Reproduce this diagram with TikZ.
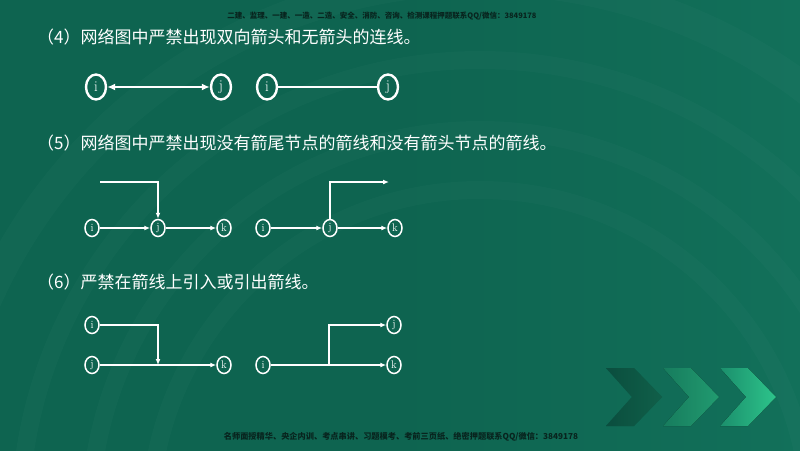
\documentclass[tikz,border=0pt]{standalone}
\usepackage{fontspec}
\newfontfamily\cjk{Noto Sans CJK SC}
\usetikzlibrary{arrows.meta,shapes.geometric}
\definecolor{bgA}{HTML}{0E6450}
\definecolor{bgB}{HTML}{12705A}
\definecolor{wm}{HTML}{08241E}
\definecolor{chA}{HTML}{1B8F6C}
\definecolor{chB}{HTML}{2DC48B}
\tikzset{
  heading/.style={anchor=west,inner sep=0pt,text=white,font=\cjk\fontsize{17}{18}\selectfont},
  wmark/.style={inner sep=0pt,text=wm,font=\cjk\bfseries\fontsize{7.5}{8}\selectfont},
  bignode/.style={ellipse,draw=white,line width=2.4pt,minimum width=20pt,minimum height=25pt,inner sep=0pt,text=white,font=\rmfamily\fontsize{15}{15}\selectfont},
  smallnode/.style={ellipse,draw=white,line width=1.5pt,minimum width=14pt,minimum height=17pt,inner sep=0pt,text=white,font=\rmfamily\fontsize{11}{11}\selectfont},
  bigline/.style={draw=white,line width=2.2pt},
  smallline/.style={draw=white,line width=1.5pt},
  tip/.style={-{Latex[length=6pt,width=5pt]}},
  bigtip/.style={{Latex[length=8pt,width=7pt]}-{Latex[length=8pt,width=7pt]}},
  arc/.style={draw=white,line width=18pt,opacity=0.018}
}
\begin{document}
\begin{tikzpicture}[x=1pt,y=-1pt]
\useasboundingbox (0,0) rectangle (800,450);
\shade[left color=bgA,right color=bgB,middle color=bgA] (0,0) rectangle (800,450);
% faint background arcs
\begin{scope}
\clip (0,0) rectangle (800,450);
\draw[arc] (480,520) circle (330);
\draw[arc] (480,520) circle (390);
\draw[arc] (480,520) circle (460);
\draw[arc,line width=30pt] (480,520) circle (540);
\end{scope}
% chevrons
\fill[left color=bgA,right color=chA,opacity=0.4] (606,368) -- (634,368) -- (662,397) -- (634,426) -- (606,426) -- (632,397) -- cycle;
\fill[left color=chA,right color=chB!70!chA,opacity=0.85] (663,368) -- (691,368) -- (719,397) -- (691,426) -- (663,426) -- (689,397) -- cycle;
\fill[left color=chA,right color=chB] (720,368) -- (748,368) -- (776,397) -- (748,426) -- (720,426) -- (746,397) -- cycle;
% watermarks
\node[wmark] (wtop) at (382,16) {二建、监理、一建、一造、二造、安全、消防、咨询、检测课程押题联系QQ/微信：3849178};
\node[wmark,font=\cjk\bfseries\fontsize{8.2}{9}\selectfont] (wbot) at (401,437) {名师面授精华、央企内训、考点串讲、习题模考、考前三页纸、绝密押题联系QQ/微信：3849178};
% headings
\node[heading] (h4) at (37,37) {（4）网络图中严禁出现双向箭头和无箭头的连线。};
\node[heading] (h5) at (37,143) {（5）网络图中严禁出现没有箭尾节点的箭线和没有箭头节点的箭线。};
\node[heading] (h6) at (37,282) {（6）严禁在箭线上引入或引出箭线。};
% (4)
\node[bignode] (a4i) at (96,87) {i};
\node[bignode] (a4j) at (221,87) {j};
\node[bignode] (b4i) at (267,87) {i};
\node[bignode] (b4j) at (388,87) {j};
\draw[bigline,bigtip] (a4i) -- (a4j);
\draw[bigline] (b4i) -- (b4j);
% (5)
\node[smallnode] (a5i) at (92,228) {i};
\node[smallnode] (a5j) at (158,228) {j};
\node[smallnode] (a5k) at (224,228) {k};
\coordinate (a5s) at (100,182);
\draw[smallline,tip] (a5i) -- (a5j);
\draw[smallline,tip] (a5j) -- (a5k);
\draw[smallline,tip] (a5s) -| (a5j);
\node[smallnode] (b5i) at (263,228) {i};
\node[smallnode] (b5j) at (330,228) {j};
\node[smallnode] (b5k) at (395,228) {k};
\coordinate (b5e) at (389,182);
\draw[smallline,tip] (b5i) -- (b5j);
\draw[smallline,tip] (b5j) -- (b5k);
\draw[smallline,tip] (b5j) |- (b5e);
% (6)
\node[smallnode] (a6i) at (92,325) {i};
\node[smallnode] (a6j) at (92,365) {j};
\node[smallnode] (a6k) at (224,365) {k};
\coordinate (a6m) at (158,365);
\draw[smallline,tip] (a6j) -- (a6k);
\draw[smallline,tip] (a6i) -| (a6m);
\node[smallnode] (b6i) at (263,365) {i};
\node[smallnode] (b6j) at (394,325) {j};
\node[smallnode] (b6k) at (394,365) {k};
\coordinate (b6m) at (329,365);
\draw[smallline,tip] (b6i) -- (b6k);
\draw[smallline,tip] (b6m) |- (b6j);
\end{tikzpicture}
\end{document}
